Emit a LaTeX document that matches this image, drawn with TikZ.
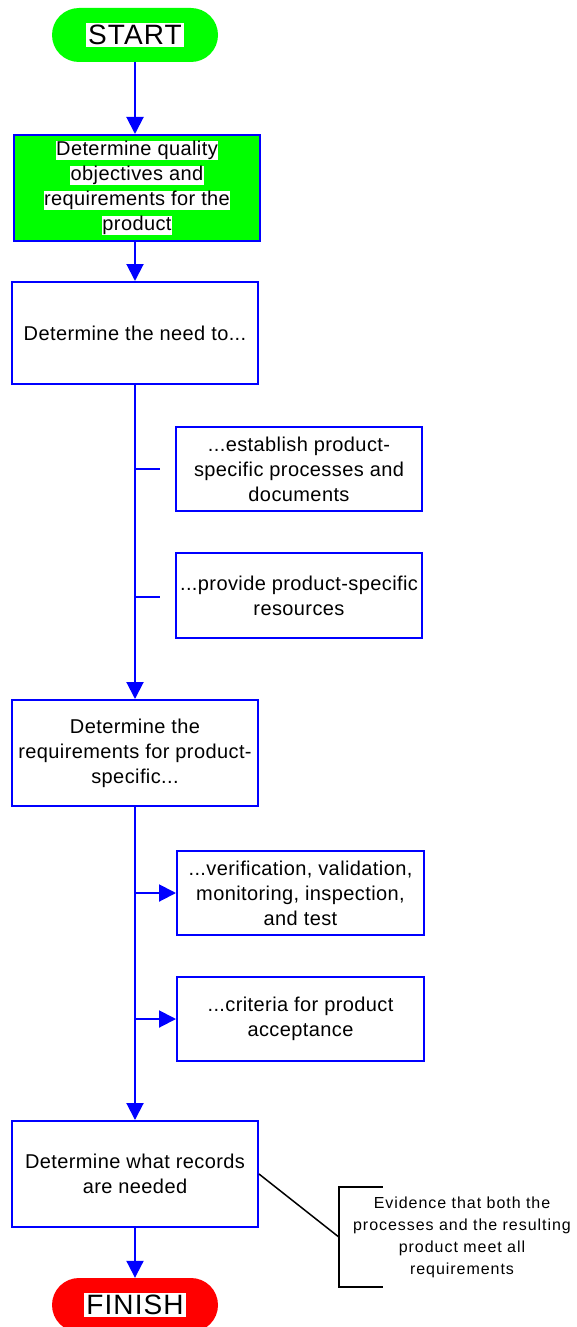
\documentclass[tikz,border=0pt]{standalone}
\usepackage{fontspec}
\setmainfont{Liberation Sans}
\newfontfamily\bodyfont[LetterSpace=2]{Liberation Sans}
\newfontfamily\notefont[LetterSpace=6]{Liberation Sans}
\newfontfamily\termfont[LetterSpace=4]{Liberation Sans}
\usetikzlibrary{arrows.meta}
\definecolor{boxblue}{RGB}{0,0,255}
\definecolor{termgreen}{RGB}{0,255,0}
\definecolor{termred}{RGB}{255,0,0}
% one line of text on a white strip
\newcommand\hlline[1]{{\setlength\fboxsep{0.5pt}\colorbox{white}{\rule[-4.5pt]{0pt}{18.5pt}#1}}}
\newcommand\termtext[1]{{\setlength\fboxsep{2pt}\colorbox{white}{#1}}}
\tikzset{
  stepbox/.style={draw=boxblue, line width=2pt, fill=white, minimum width=246pt,
    minimum height=104pt, align=center, inner sep=0pt,
    font=\bodyfont\fontsize{20pt}{25pt}\selectfont},
  terminal/.style={rounded corners=27pt, minimum width=166pt, minimum height=54pt,
    inner sep=0pt, font=\termfont\fontsize{28pt}{30pt}\selectfont},
  flow/.style={draw=boxblue, line width=2pt, -{Triangle[length=17pt,width=17pt]}},
  link/.style={draw=boxblue, line width=2pt},
  notelink/.style={draw=black, line width=1.5pt},
}
\begin{document}
\begin{tikzpicture}[x=1pt, y=-1pt]
\useasboundingbox (0,0) rectangle (577,1327);
\clip (0,0) rectangle (577,1327);

% terminals
\node[terminal, fill=termgreen] (start) at (135,35) {\termtext{START}};
\node[terminal, fill=termred] (finish) at (135,1305) {\termtext{FINISH}};

% main steps
\node[stepbox, fill=termgreen, minimum height=106pt] (objectives) at (137,188)
  {\hlline{Determine quality}\\\hlline{objectives and}\\\hlline{requirements for the}\\\hlline{product}};
\node[stepbox, minimum height=102pt] (needto) at (135,333) {Determine the need to...};
\node[stepbox, minimum height=106pt] (reqs) at (135,753)
  {Determine the\\requirements for product-\\specific...};
\node[stepbox, minimum height=106pt] (records) at (135,1174)
  {Determine what records\\are needed};

% sub-steps
\node[stepbox, minimum height=84pt] (establish) at (299,469)
  {...establish product-\\specific processes and\\documents};
\node[stepbox, minimum height=85pt] (resources) at (299,595.5)
  {...provide product-specific\\resources};
\node[stepbox, minimum width=247pt, minimum height=84pt] (verify) at (300.5,893)
  {...verification, validation,\\monitoring, inspection,\\and test};
\node[stepbox, minimum width=247pt, minimum height=84pt] (criteria) at (300.5,1019)
  {...criteria for product\\acceptance};

% annotation
\node[minimum width=246pt, minimum height=100pt, align=center, inner sep=0pt,
  font=\notefont\fontsize{16pt}{22pt}\selectfont] (note) at (462,1237)
  {Evidence that both the\\processes and the resulting\\product meet all\\requirements};
\draw[notelink] ([xshift=44pt]note.north west) -- (note.north west)
  -- (note.south west) -- ([xshift=44pt]note.south west);

% flow
\draw[flow] (start.south) -- (start.south |- objectives.north);
\draw[flow] (objectives.south -| needto.north) -- (needto.north);
\draw[flow] (needto.south) -- (reqs.north);
\draw[flow] (reqs.south) -- (records.north);
\draw[flow] (records.south) -- (finish.north);

% branches
\coordinate (b1) at (135,469);
\coordinate (b1end) at (160,469);
\coordinate (b2) at (135,597);
\coordinate (b2end) at (160,597);
\draw[link] (b1) -- (b1end);
\draw[link] (b2) -- (b2end);
\coordinate (b3) at (135,893);
\coordinate (b4) at (135,1019);
\draw[flow] (b3) -- (verify.west);
\draw[flow] (b4) -- (criteria.west);

% records to annotation
\coordinate (notetip) at (note.west);
\draw[notelink] (records.east) -- (notetip);
\end{tikzpicture}
\end{document}
